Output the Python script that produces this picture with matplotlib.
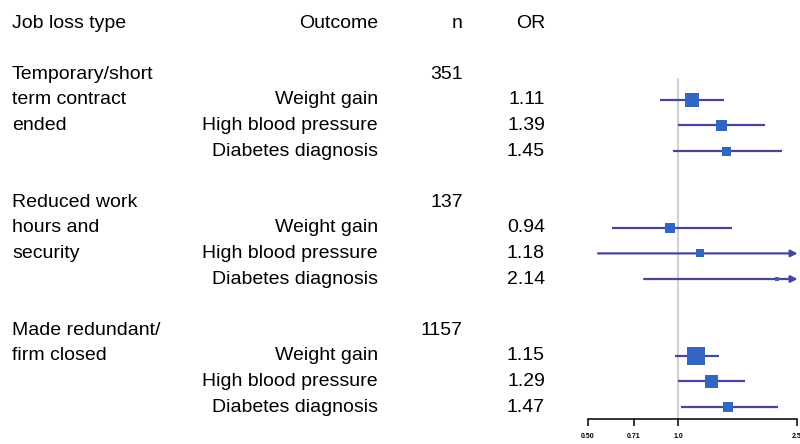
import numpy as np
import matplotlib
matplotlib.use("Agg")
import matplotlib.pyplot as plt
import matplotlib.transforms as mtransforms

plt.rcParams['font.family'] = ['Liberation Sans', 'DejaVu Sans']

# ---- data ----
groups = ["Temporary/short\nterm contract\nended",
          "Reduced work\nhours and\nsecurity",
          "Made redundant/\nfirm closed"]
group_n = ["351", "137", "1157"]
outcomes = ["Weight gain", "High blood pressure", "Diabetes diagnosis"]
or_values = [[1.11, 1.39, 1.45],
             [0.94, 1.18, 2.14],
             [1.15, 1.29, 1.47]]
ci_low = [[0.87, 1.00, 0.96],
          [0.60, 0.54, 0.77],
          [0.98, 1.00, 1.02]]
ci_high = [[1.43, 1.95, 2.23],
           [1.51, np.nan, np.nan],   # nan = beyond axis (arrow)
           [1.37, 1.67, 2.16]]
weights = [[14, 11, 9],
           [10, 7.5, 5],
           [18, 13, 9.5]]            # relative square sizes
ticks = [0.50, 0.71, 1.0, 2.5]
tick_labels = ["0.50", "0.71", "1.0", "2.5"]

# ---- layout ----
W, H = 800, 444
fig = plt.figure(figsize=(8, 4.44), dpi=100)
row0_px, row_step = 23.0, 25.6
ax_left_px, ax_right_px, ax_bottom_px = 588, 797, 419

ax = fig.add_axes([ax_left_px / W, 1 - ax_bottom_px / H,
                   (ax_right_px - ax_left_px) / W, ax_bottom_px / H])
ax.set_xscale('log')
xmin, xmax = 0.5, 2.5
ax.set_xlim(xmin, xmax)
ybot = (ax_bottom_px - row0_px) / row_step
ytop = (0 - row0_px) / row_step
ax.set_ylim(ybot, ytop)

for s in ['top', 'left', 'right']:
    ax.spines[s].set_visible(False)
ax.spines['bottom'].set_linewidth(1.1)
ax.set_yticks([])
ax.set_xticks(ticks)
ax.set_xticklabels(tick_labels, fontsize=5, fontweight='bold')
ax.xaxis.set_minor_locator(matplotlib.ticker.NullLocator())
ax.tick_params(axis='x', length=5, width=1.1, pad=5)

ax.plot([1, 1], [2.2, ybot], color='#c8c8c8', lw=1.2, zorder=1, clip_on=False)

line_col = '#4646a0'
sq_col = '#3366c2'
trans = mtransforms.blended_transform_factory(fig.transFigure, ax.transData)
fs = 14

fig.text(12 / W, 1 - row0_px / H, "Job loss type", fontsize=fs, va='center', ha='left')
fig.text(378 / W, 1 - row0_px / H, "Outcome", fontsize=fs, va='center', ha='right')
fig.text(463 / W, 1 - row0_px / H, "n", fontsize=fs, va='center', ha='right')
fig.text(545 / W, 1 - row0_px / H, "OR", fontsize=fs, va='center', ha='right')

for g in range(3):
    base = 2 + 5 * g
    for k, line in enumerate(groups[g].split("\n")):
        ax.text(12 / W, base + k, line, transform=trans, fontsize=fs, va='center', ha='left')
    ax.text(463 / W, base, group_n[g], transform=trans, fontsize=fs, va='center', ha='right')
    for j in range(3):
        y = base + 1 + j
        ax.text(378 / W, y, outcomes[j], transform=trans, fontsize=fs, va='center', ha='right')
        ax.text(545 / W, y, f"{or_values[g][j]:.2f}", transform=trans, fontsize=fs,
                va='center', ha='right')
        lo = ci_low[g][j]
        hi = ci_high[g][j]
        if np.isnan(hi):
            ax.annotate('', xy=(xmax * 1.005, y), xytext=(lo, y),
                        arrowprops=dict(arrowstyle='-|>', color=line_col, lw=1.6,
                                        mutation_scale=10, shrinkA=0, shrinkB=0),
                        annotation_clip=False, zorder=2)
        else:
            ax.plot([lo, hi], [y, y], color=line_col, lw=1.6, zorder=2,
                    solid_capstyle='butt')
        ax.plot([or_values[g][j]], [y], marker='s', ms=weights[g][j] * 0.72,
                color=sq_col, mec=sq_col, mew=0, zorder=3, clip_on=False)

fig.savefig("out.png", dpi=100)
